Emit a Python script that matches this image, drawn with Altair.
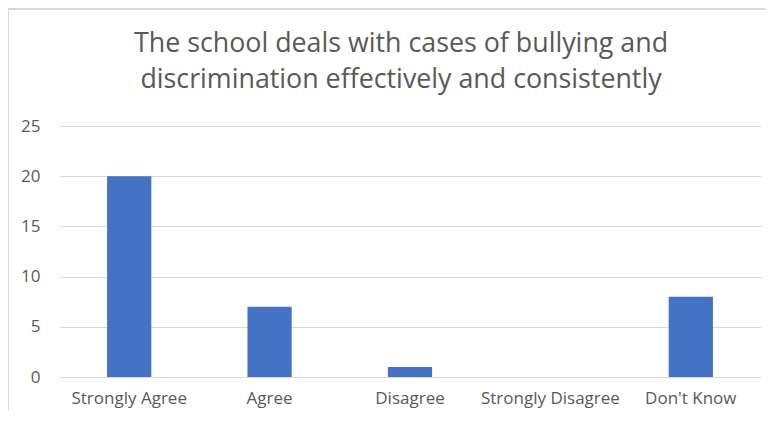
import altair as alt
import pandas as pd

categories = ["Strongly Agree", "Agree", "Disagree", "Strongly Disagree", "Don't Know"]
counts = [20, 7, 1, 0, 8]
y_ticks = [0, 5, 10, 15, 20, 25]
title_lines = ["The school deals with cases of bullying and",
               "discrimination effectively and consistently"]

df = pd.DataFrame({"category": categories, "count": counts})

W, H = 702, 251
FONT = "Open Sans"
TXT = "#595959"
GRID = "#d9d9d9"

bars = alt.Chart(df).mark_bar(color="#4472C4").encode(
    x=alt.X("category:N", sort=categories,
            scale=alt.Scale(paddingInner=0.685, paddingOuter=0.3425),
            axis=alt.Axis(title=None, labelAngle=0, ticks=False, domain=False,
                          labelPadding=13, labelFontSize=17, labelFont=FONT,
                          labelColor=TXT, grid=False)),
    y=alt.Y("count:Q", scale=alt.Scale(domain=[0, 25], nice=False),
            axis=alt.Axis(title=None, values=y_ticks, ticks=False, domain=False,
                          labelPadding=19, labelFontSize=17, labelFont=FONT,
                          labelColor=TXT, grid=True, gridColor=GRID, gridWidth=1)),
)

frame = pd.DataFrame({"a": [0]})
top_border = alt.Chart(frame).mark_rule(color=GRID, strokeWidth=2).encode(
    x=alt.value(-52), x2=alt.value(W + 20), y=alt.value(-117)
)
left_border = alt.Chart(frame).mark_rule(color=GRID, strokeWidth=2).encode(
    x=alt.value(-51), y=alt.value(-117), y2=alt.value(H + 40)
)
title = alt.Chart(frame).mark_text(
    font=FONT, fontSize=26.8, color=TXT, align="center", baseline="alphabetic",
    lineBreak="\n", lineHeight=36
).encode(
    x=alt.value(342), y=alt.value(-74), text=alt.value("\n".join(title_lines))
)

chart = alt.layer(bars, top_border, left_border, title).properties(
    width=W, height=H,
    autosize=alt.AutoSizeParams(type="none"),
    padding={"left": 51, "top": 118, "right": 5, "bottom": 33},
).configure(background="white").configure_view(stroke=None)

chart.save("out.html", embed_options={"renderer": "svg", "actions": False})
